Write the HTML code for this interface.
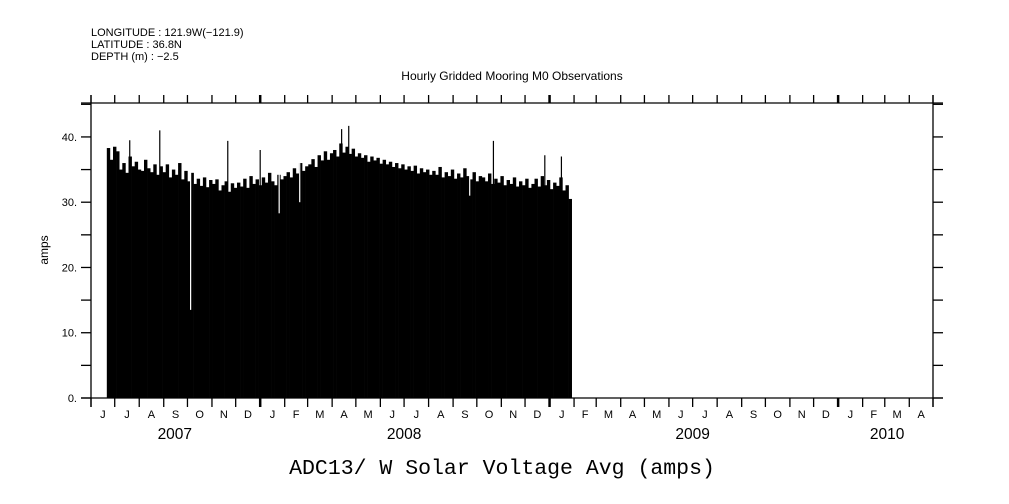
<!DOCTYPE html>
<html><head><meta charset="utf-8"><style>
html,body{margin:0;padding:0;background:#fff}
svg{display:block}
text{font-family:"Liberation Sans",sans-serif;fill:#000}
</style></head><body>
<svg id="chart" width="1009" height="504" viewBox="0 0 1009 504" xmlns="http://www.w3.org/2000/svg">
<g font-size="11">
<text x="91" y="36">LONGITUDE : 121.9W(−121.9)</text>
<text x="91" y="48">LATITUDE : 36.8N</text>
<text x="91" y="60">DEPTH (m) : −2.5</text>
</g>
<text x="512" y="80" font-size="12" text-anchor="middle">Hourly Gridded Mooring M0 Observations</text>
<g id="marks"></g>
<g id="axes"></g>
<text x="0" y="0" transform="translate(48,250) rotate(-90)" font-size="12" text-anchor="middle">amps</text>
<text x="502" y="474" font-family="Liberation Mono, monospace" style="font-family:'Liberation Mono',monospace" font-size="21.5" text-anchor="middle">ADC13/ W Solar Voltage Avg (amps)</text>
</svg>
<script>
// data: days since 2007-06-01
const startDay = 20;
const endDay = 608;
const values = [
38.3,36.5,38.5,37.8,35,36,34.5,37,35.5,36.2,
35,34.8,36.5,35.2,34.6,35.8,34.2,35.5,
34.6,35.8,33.8,35,34.2,36,33.5,34.8,
33.2,34.5,32.8,33.6,32.5,33.8,32.3,33.4,
32.8,33.5,31.8,32.6,33.2,31.6,32.9,32.2,
33,32.4,33.6,32.2,34,32.8,33.5,32.6,
33.8,33,34.5,33.2,32.6,34.2,33.5,34,
34.6,33.8,35.2,34.4,36,34.8,35.5,
35.8,36.6,35.4,37.2,36.4,37.8,36.5,37.5,
38,37,39,37.6,38.5,37.4,38.2,37,
37.5,36.8,37.2,36.2,37,36.4,36.8,35.9,
36.5,35.8,36.2,35.4,36,35.2,35.8,35,
35.5,34.8,35.6,34.4,35.2,34.6,35,34.2,
34.8,34.2,35.4,33.8,34.6,34,35,33.6,
34.4,33.8,35.2,34,33.5,34.6,33.2,34,
33.8,33.2,34.4,32.8,33.6,33,34,32.6,
33.4,32.8,33.8,32.4,33.2,32.6,33.6,32.2,
32.8,33.6,32.4,34,32.6,33.4,32,33,
32.5,33.8,31.8,32.6,30.5];
const spikeDays = [49,87,173,214,317,326,509,574,595];
const spikeVals = [39.5,41,39.4,38,41.2,41.7,39.4,37.2,37];
const dipDays = [126,238,264,479];
const dipVals = [13.5,28.3,30,31];
const monthLabels = ["J","J","A","S","O","N","D","J","F","M","A","M","J","J","A","S","O","N","D","J","F","M","A","M","J","J","A","S","O","N","D","J","F","M","A"];
const monthDays = [30,31,31,30,31,30,31,31,29,31,30,31,30,31,31,30,31,30,31,31,28,31,30,31,30,31,31,30,31,30,31,31,28,31,30];
const yearLabels = ["2007","2008","2009","2010"];
const yearCenterDays = [106,396,761,1007];
const yTicks = [0,10,20,30,40];
const yTickLabels = ["0.","10.","20.","30.","40."];

const L=91,R=933,T=103,B=398,totalDays=1065,yMax=45.2;
const X=d=>L+d*(R-L)/totalDays;
const Y=v=>B-v*(B-T)/yMax;
const NS="http://www.w3.org/2000/svg";
function mk(tag,attrs,parent){const e=document.createElementNS(NS,tag);for(const k in attrs)e.setAttribute(k,attrs[k]);parent.appendChild(e);return e;}
const marks=document.getElementById('marks'),axes=document.getElementById('axes');
const stepDays=(endDay-startDay)/values.length;
values.forEach((v,i)=>{
  const x0=X(startDay+i*stepDays),x1=X(startDay+(i+1)*stepDays);
  const r=mk('rect',{x:x0,y:Y(v),width:x1-x0+0.3,height:B-Y(v),fill:'#000'},marks);
  
  
});
spikeDays.forEach((d,i)=>{
  const l=mk('line',{x1:X(d),x2:X(d),y1:B,y2:Y(spikeVals[i]),stroke:'#000','stroke-width':1.2},marks);
  
  
});
dipDays.forEach((d,i)=>{
  const l=mk('line',{x1:X(d),x2:X(d),y1:Y(45),y2:Y(dipVals[i]),stroke:'#fff','stroke-width':1.2},marks);
  
  
});
const st={stroke:'#000','stroke-width':1.3};
mk('line',Object.assign({x1:81,x2:943,y1:T,y2:T},st),axes);
mk('line',Object.assign({x1:81,x2:943,y1:B,y2:B},st),axes);
mk('line',Object.assign({x1:L,x2:L,y1:95,y2:407},st),axes);
mk('line',Object.assign({x1:R,x2:R,y1:95,y2:407},st),axes);
for(let v=0;v<=45;v+=5){
  const y=Y(v);
  mk('line',Object.assign({x1:81,x2:L,y1:y,y2:y},st),axes);
  mk('line',Object.assign({x1:R,x2:943,y1:y,y2:y},st),axes);
}
yTicks.forEach((v,i)=>{
  const t=mk('text',{x:77,y:Y(v)+4,'font-size':11,'text-anchor':'end'},axes);
  t.textContent=yTickLabels[i];
  
  
});
let d=0;
for(let i=0;i<=monthDays.length;i++){
  const x=X(d);
  const yr=(i===7||i===19||i===31);
  const w=yr?2.5:1.3;
  mk('line',{x1:x,x2:x,y1:95,y2:T,stroke:'#000','stroke-width':w},axes);
  mk('line',{x1:x,x2:x,y1:B,y2:407,stroke:'#000','stroke-width':w},axes);
  if(i<monthDays.length){
    const t=mk('text',{x:X(d+monthDays[i]/2),y:418,'font-size':11,'text-anchor':'middle'},axes);
    t.textContent=monthLabels[i];
    
    
    d+=monthDays[i];
  }
}
yearLabels.forEach((s,i)=>{
  const t=mk('text',{x:X(yearCenterDays[i]),y:439,'font-size':15.5,'text-anchor':'middle'},axes);
  t.textContent=s;
  
  
});
</script>
</body></html>
